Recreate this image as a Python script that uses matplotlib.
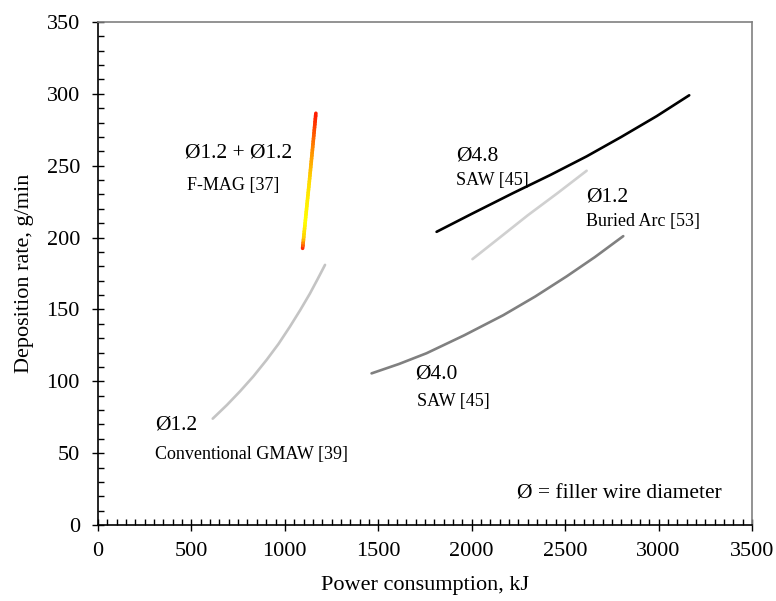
import numpy as np
import matplotlib
matplotlib.use('Agg')
import matplotlib.pyplot as plt
from matplotlib.collections import LineCollection
from matplotlib.colors import LinearSegmentedColormap
from matplotlib.ticker import MultipleLocator

plt.rcParams['font.family'] = ['Liberation Serif', 'DejaVu Sans']

# curves (power kJ, deposition g/min)
fmag_x = [1095, 1113, 1131, 1149, 1166]
fmag_y = [192.5, 216, 239, 263, 286.5]

gmaw_x = [614, 690, 760, 832, 903, 966, 1027, 1082, 1134, 1177, 1215]
gmaw_y = [74, 83.5, 93, 103.5, 115, 126, 138, 149.5, 161, 171.5, 181]

saw40_x = [1464, 1610, 1758, 1960, 2169, 2340, 2508, 2660, 2811]
saw40_y = [105.5, 112, 119.5, 132, 146, 159, 173, 186.5, 201]

saw48_x = [1812, 2000, 2222, 2420, 2615, 2800, 2990, 3164]
saw48_y = [204, 216.5, 231, 243.5, 256.5, 270, 284.5, 299]

buried_x = [2004, 2150, 2300, 2460, 2615]
buried_y = [185, 200, 215.5, 231, 246.5]

fig = plt.figure(figsize=(7.76, 6.01), dpi=100)
ax = fig.add_axes([98 / 776, 1 - 525 / 601, 654 / 776, 503 / 601])

ax.plot(gmaw_x, gmaw_y, color='#c4c4c4', lw=1.9, solid_capstyle='round')
ax.plot(saw40_x, saw40_y, color='#808080', lw=1.9, solid_capstyle='round')
ax.plot(buried_x, buried_y, color='#d0d0d0', lw=1.9, solid_capstyle='round')
ax.plot(saw48_x, saw48_y, color='black', lw=1.9, solid_capstyle='round')

# F-MAG line with red-yellow gradient
cmap = LinearSegmentedColormap.from_list(
    'fmag', [(0, '#ff1a00'), (0.08, '#ffcc00'), (0.2, '#ffff00'),
             (0.5, '#ffdd00'), (0.75, '#ff8800'), (1, '#ff1a00')])
xs = np.array(fmag_x, dtype=float)
ys = np.array(fmag_y, dtype=float)
sub = []
cols = []
n = 12
for (x0, y0), (x1, y1) in zip(zip(xs[:-1], ys[:-1]), zip(xs[1:], ys[1:])):
    for k in range(n):
        a, b = k / n, (k + 1) / n
        sub.append([(x0 + (x1 - x0) * a, y0 + (y1 - y0) * a),
                    (x0 + (x1 - x0) * b, y0 + (y1 - y0) * b)])
        cols.append(((y0 + (y1 - y0) * (a + b) / 2) - ys[0]) / (ys[-1] - ys[0]))
lc = LineCollection(sub, colors=cmap(np.array(cols)), linewidths=2.6, capstyle='round')
ax.add_collection(lc)

big = 15.5
small = 13
ax.text(465, 259, '\u00d81.2 + \u00d81.2', fontsize=big, va='center', ha='left')
ax.text(476, 236, 'F-MAG [37]', fontsize=small, va='center')
ax.text(1915, 257, '\u00d84.8', fontsize=big, va='center')
ax.text(1915, 240, 'SAW [45]', fontsize=small, va='center')
ax.text(2611, 228, '\u00d81.2', fontsize=big, va='center')
ax.text(2611, 211.5, 'Buried Arc [53]', fontsize=small, va='center')
ax.text(1696, 105, '\u00d84.0', fontsize=big, va='center')
ax.text(1707, 86, 'SAW [45]', fontsize=small, va='center')
ax.text(305, 69.5, '\u00d81.2', fontsize=big, va='center')
ax.text(305, 49, 'Conventional GMAW [39]', fontsize=small, va='center')
ax.text(2242, 21.5, '\u00d8 = filler wire diameter', fontsize=big, va='center')

ax.set_xlim(0, 3500)
ax.set_ylim(0, 350)
ax.xaxis.set_major_locator(MultipleLocator(500))
ax.xaxis.set_minor_locator(MultipleLocator(50))
ax.yaxis.set_major_locator(MultipleLocator(50))
ax.yaxis.set_minor_locator(MultipleLocator(10))
ax.tick_params(which='major', direction='inout', length=8, width=1, labelsize=16)
ax.tick_params(axis='x', which='major', pad=8)
ax.tick_params(axis='y', which='major', pad=9)
ax.tick_params(which='minor', direction='in', length=4, width=1)
ax.tick_params(top=False, right=False, which='both')

for s in ['left', 'bottom']:
    ax.spines[s].set_color('black')
    ax.spines[s].set_linewidth(1.2)
for s in ['top', 'right']:
    ax.spines[s].set_color('#808080')
    ax.spines[s].set_linewidth(1.2)

ax.set_xlabel('Power consumption, kJ', fontsize=16, labelpad=11)
ax.set_ylabel('Deposition rate, g/min', fontsize=16, labelpad=9)

fig.savefig('out.png', dpi=100)
